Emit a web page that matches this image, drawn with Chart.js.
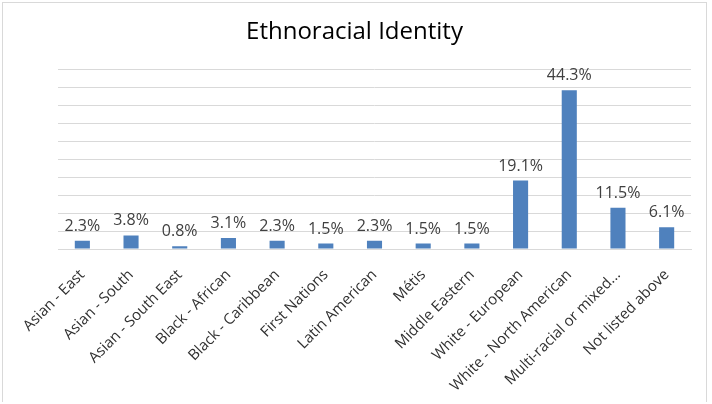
<!DOCTYPE html>
<html>
<head>
<meta charset="utf-8">
<script src="https://cdn.jsdelivr.net/npm/chart.js@4.4.1/dist/chart.umd.min.js"></script>
<style>
    html, body { margin: 0; padding: 0; background: #ffffff; }
    #wrap {
        position: absolute; left: 2px; top: 2px;
        width: 705px; height: 400px;
        border: 1px solid #d9d9d9; border-bottom: none;
        box-sizing: border-box;
    }
    #chart { display: block; }
</style>
</head>
<body>
<div id="wrap"><canvas id="chart" width="703" height="400"></canvas></div>
<script>
    const categories = [
        "Asian - East", "Asian - South", "Asian - South East", "Black - African",
        "Black - Caribbean", "First Nations", "Latin American", "Métis",
        "Middle Eastern", "White - European", "White - North American",
        "Multi-racial or mixed...", "Not listed above"
    ];
    const shares = [2.3, 3.8, 0.8, 3.1, 2.3, 1.5, 2.3, 1.5, 1.5, 19.1, 44.3, 11.5, 6.1];
    const yMax = 50;
    const yStep = 5;

    const fontFamily = "'Open Sans', 'Noto Sans', sans-serif";

    // writes the percentage over each bar
    const valueLabels = {
        id: "valueLabels",
        afterDatasetsDraw(chart) {
            const ctx = chart.ctx;
            const meta = chart.getDatasetMeta(0);
            ctx.save();
            ctx.font = "16px " + fontFamily;
            ctx.fillStyle = "#404040";
            ctx.textAlign = "center";
            ctx.textBaseline = "alphabetic";
            meta.data.forEach((bar, i) => {
                ctx.fillText(shares[i].toFixed(1) + "%", bar.x, bar.y - 10);
            });
            ctx.restore();
        }
    };

    new Chart(document.getElementById("chart").getContext("2d"), {
        type: "bar",
        data: {
            labels: categories,
            datasets: [{
                data: shares,
                backgroundColor: "#4f81bd",
                borderWidth: 0,
                barPercentage: 0.31,
                categoryPercentage: 1
            }]
        },
        options: {
            responsive: false,
            animation: false,
            layout: { padding: 0 },
            plugins: {
                legend: { display: false },
                tooltip: { enabled: false },
                title: {
                    display: true,
                    text: "Ethnoracial Identity",
                    color: "#000000",
                    font: { family: fontFamily, size: 24, weight: "normal", lineHeight: 1.2 },
                    padding: { top: 15, bottom: 23 }
                }
            },
            scales: {
                x: {
                    grid: { display: false },
                    border: { color: "#d9d9d9" },
                    ticks: {
                        color: "#303030",
                        font: { family: fontFamily, size: 15 },
                        minRotation: 45,
                        maxRotation: 45,
                        autoSkip: false,
                        padding: 9
                    },
                    afterFit(scale) { scale.height = 154; }
                },
                y: {
                    min: 0,
                    max: yMax,
                    ticks: { stepSize: yStep, display: false },
                    grid: { color: "#d9d9d9", drawTicks: false },
                    border: { display: false },
                    afterFit(scale) { scale.width = 55; }
                },
                // empty right margin so the title stays centred on the canvas
                gap: {
                    axis: "y",
                    position: "right",
                    ticks: { display: false },
                    grid: { display: false, drawTicks: false },
                    border: { display: false },
                    afterFit(scale) { scale.width = 15; }
                }
            }
        },
        plugins: [valueLabels]
    });
</script>
</body>
</html>
